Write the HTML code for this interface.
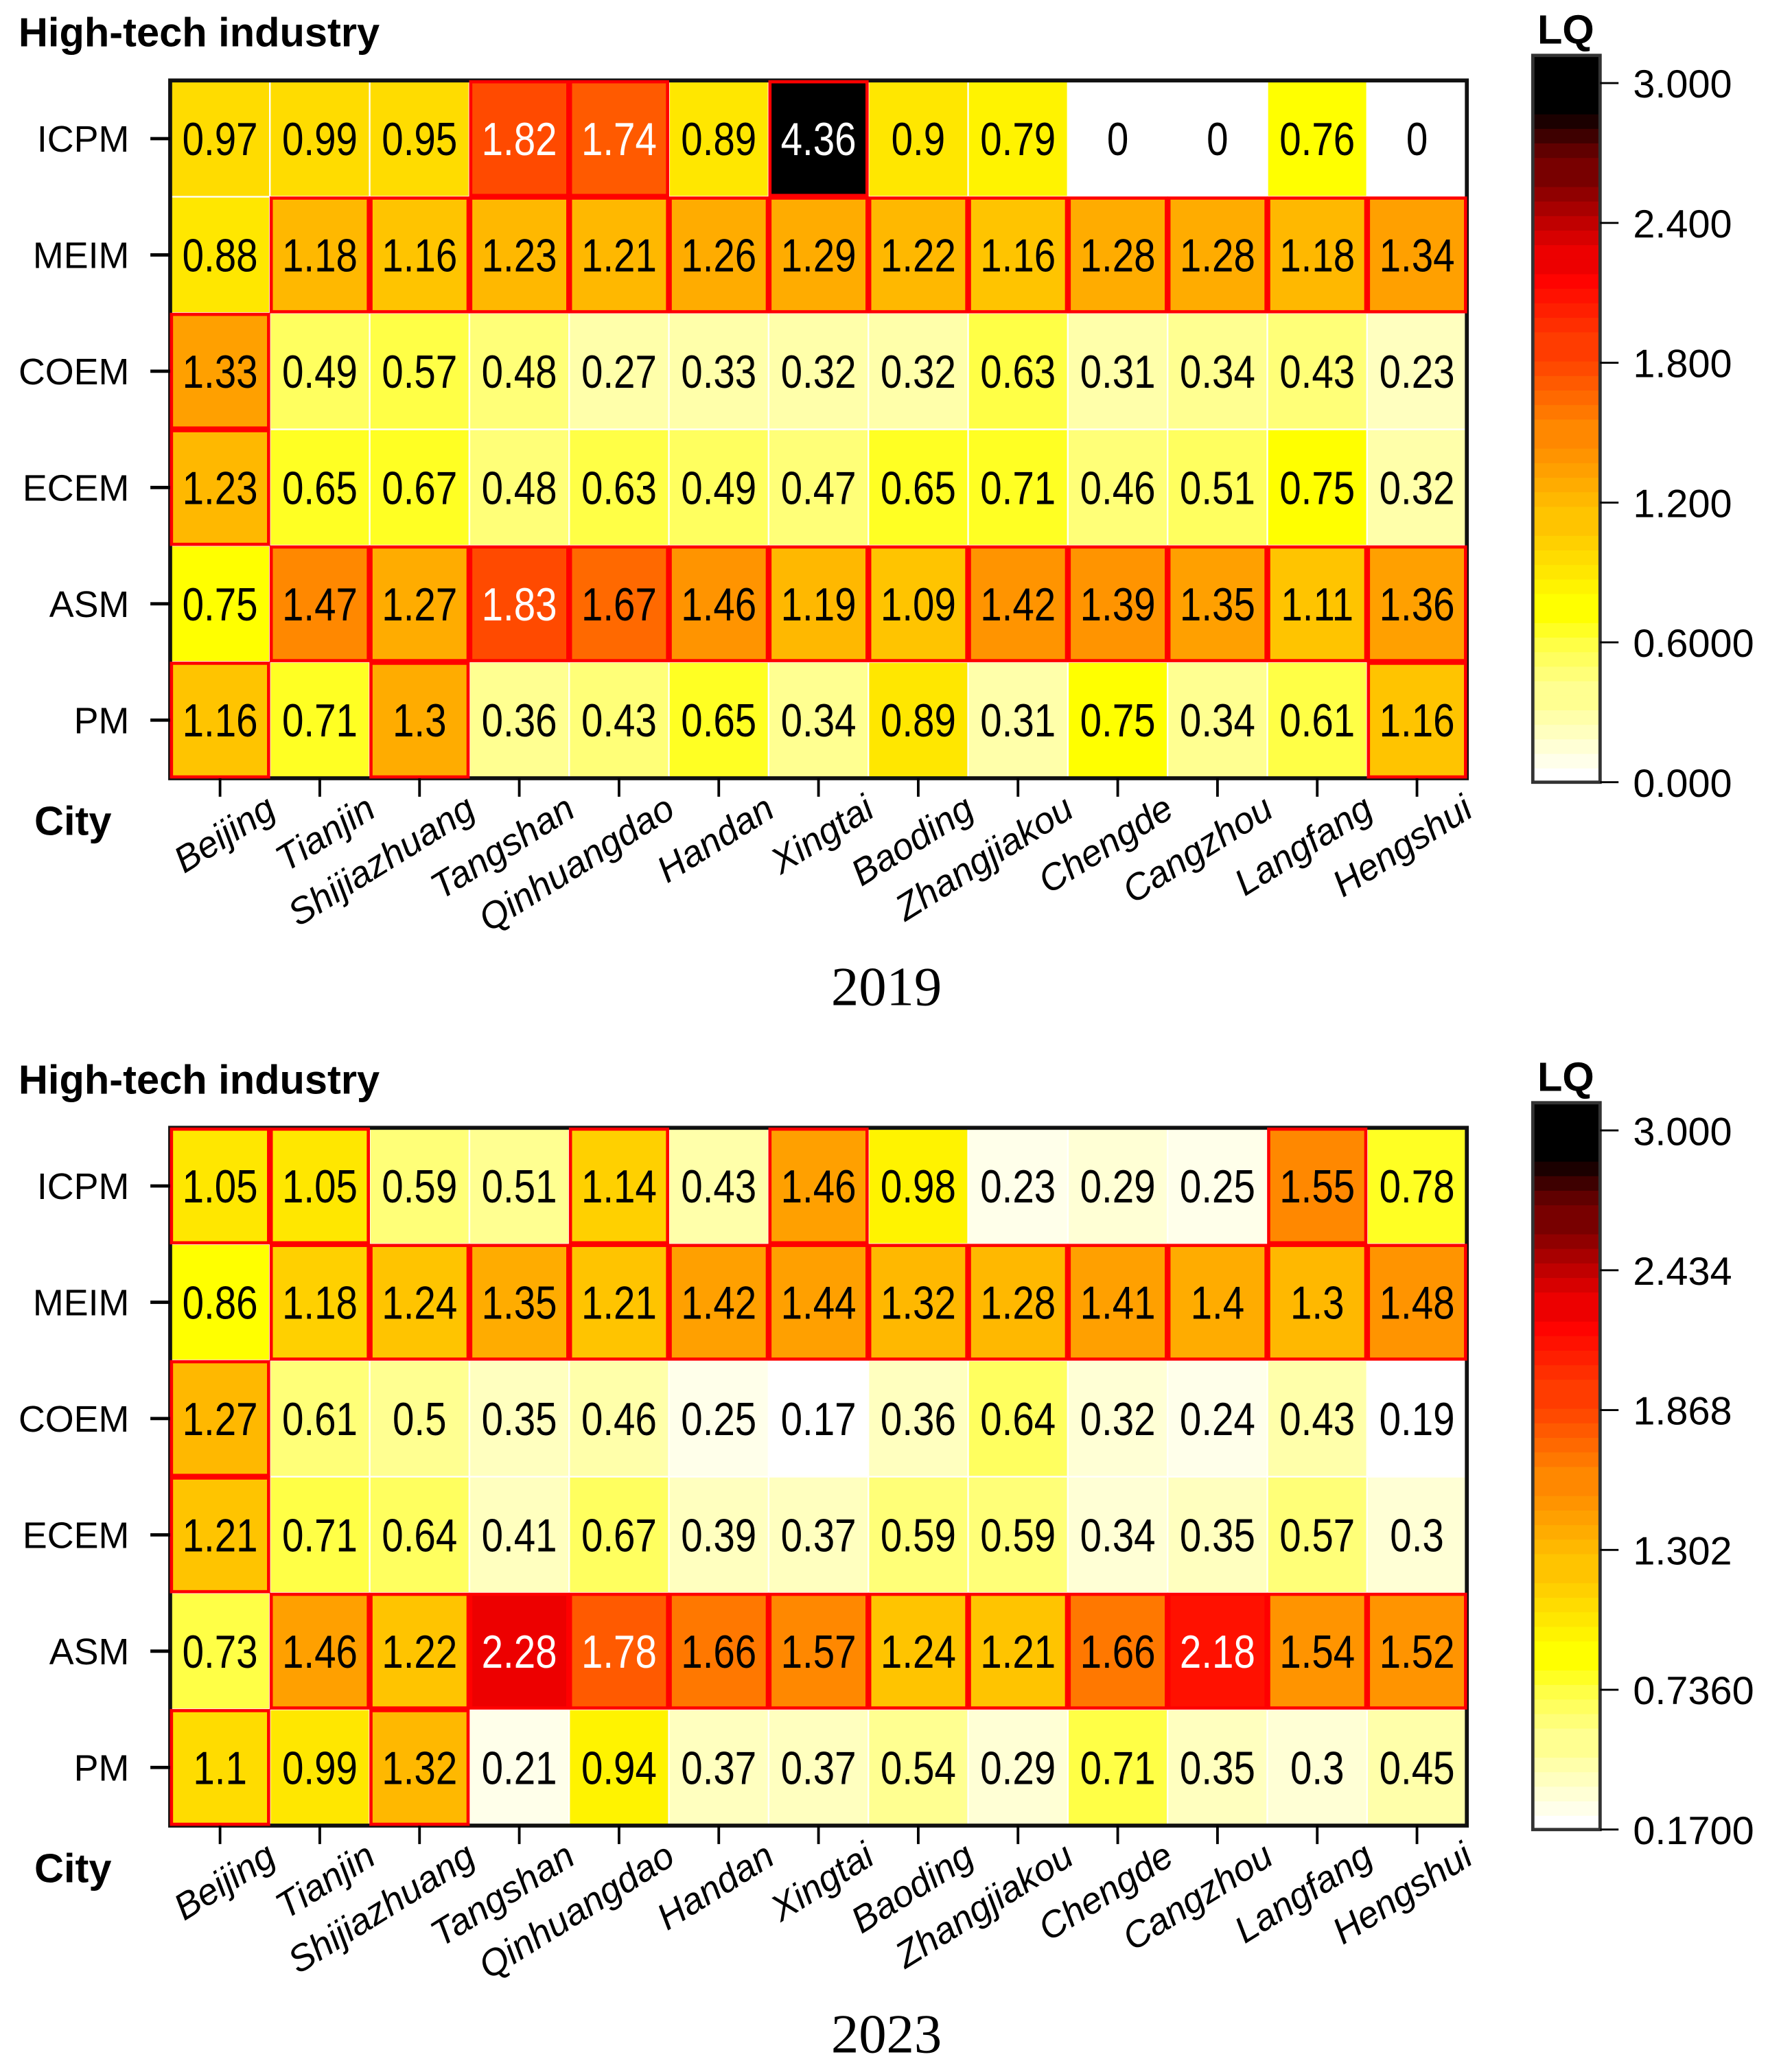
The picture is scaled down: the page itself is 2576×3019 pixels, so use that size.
<!DOCTYPE html>
<html><head><meta charset="utf-8"><style>
html,body{margin:0;padding:0;background:#fff;}
svg{display:block;}
</style></head><body>
<svg id="chart" xmlns="http://www.w3.org/2000/svg" width="2576" height="3019" viewBox="0 0 1340.3 1570.8" font-family="Liberation Sans, Arial, sans-serif">
</svg>
<script>
const cities = ["Beijing","Tianjin","Shijiazhuang","Tangshan","Qinhuangdao","Handan","Xingtai","Baoding","Zhangjiakou","Chengde","Cangzhou","Langfang","Hengshui"];
const industries = ["ICPM","MEIM","COEM","ECEM","ASM","PM"];
const values2019 = [
 [0.97,0.99,0.95,1.82,1.74,0.89,4.36,0.9,0.79,0,0,0.76,0],
 [0.88,1.18,1.16,1.23,1.21,1.26,1.29,1.22,1.16,1.28,1.28,1.18,1.34],
 [1.33,0.49,0.57,0.48,0.27,0.33,0.32,0.32,0.63,0.31,0.34,0.43,0.23],
 [1.23,0.65,0.67,0.48,0.63,0.49,0.47,0.65,0.71,0.46,0.51,0.75,0.32],
 [0.75,1.47,1.27,1.83,1.67,1.46,1.19,1.09,1.42,1.39,1.35,1.11,1.36],
 [1.16,0.71,1.3,0.36,0.43,0.65,0.34,0.89,0.31,0.75,0.34,0.61,1.16]];
const values2023 = [
 [1.05,1.05,0.59,0.51,1.14,0.43,1.46,0.98,0.23,0.29,0.25,1.55,0.78],
 [0.86,1.18,1.24,1.35,1.21,1.42,1.44,1.32,1.28,1.41,1.4,1.3,1.48],
 [1.27,0.61,0.5,0.35,0.46,0.25,0.17,0.36,0.64,0.32,0.24,0.43,0.19],
 [1.21,0.71,0.64,0.41,0.67,0.39,0.37,0.59,0.59,0.34,0.35,0.57,0.3],
 [0.73,1.46,1.22,2.28,1.78,1.66,1.57,1.24,1.21,1.66,2.18,1.54,1.52],
 [1.1,0.99,1.32,0.21,0.94,0.37,0.37,0.54,0.29,0.71,0.35,0.3,0.45]];
const ticks2019 = ["3.000","2.400","1.800","1.200","0.6000","0.000"];
const ticks2023 = ["3.000","2.434","1.868","1.302","0.7360","0.1700"];
const range2019 = [0,3];
const range2023 = [0.17,3];
const years = ["2019","2023"];

const NS="http://www.w3.org/2000/svg";
const svg=document.getElementById('chart');
function mk(tag,attrs,parent,text){const e=document.createElementNS(NS,tag);for(const k in attrs)e.setAttribute(k,attrs[k]);if(text!==undefined)e.textContent=text;(parent||svg).appendChild(e);return e;}

const stops=[[0,[255,255,255]],[0.1,[255,255,170]],[0.2,[255,255,70]],[0.25,[255,255,0]],[0.4,[255,184,0]],[0.5,[255,136,0]],[0.6,[255,74,0]],[0.73,[255,0,0]],[0.8,[192,0,0]],[0.9,[96,0,0]],[0.97,[0,0,0]],[1,[0,0,0]]];
function colorAt(t){t=Math.max(0,Math.min(1,t));t=Math.round(t*40)/40;
 for(let i=1;i<stops.length;i++){if(t<=stops[i][0]){const a=stops[i-1],b=stops[i];const f=(t-a[0])/(b[0]-a[0]);const c=a[1].map((v,k)=>Math.round(v+(b[1][k]-v)*f));return `rgb(${c[0]},${c[1]},${c[2]})`;}}
 return 'rgb(0,0,0)';}

function panel(oy,vals,ticks,range,year){
 const g=mk('g',{});
 
 
 const L=129,R=1112,T=oy+61,B=oy+590;
 const cw=(R-L)/cities.length, rh=(B-T)/industries.length;
 const xS=i=>L+i*cw, yS=j=>T+j*rh;
 const tS=v=>(v-range[0])/(range[1]-range[0]);
 const title=mk('text',{x:14,y:oy+35,'font-size':31,'font-weight':'bold'},g,'High-tech industry');
 
 
 industries.forEach((ind,j)=>{cities.forEach((c,i)=>{
  const v=vals[j][i];
  const r=mk('rect',{x:xS(i),y:yS(j),width:cw,height:rh,fill:colorAt(tS(v)),stroke:'#fff','stroke-width':1.2},g);
  
  
 });});
 mk('rect',{x:L,y:T,width:R-L,height:B-T,fill:'none',stroke:'#111','stroke-width':3},g);
 industries.forEach((ind,j)=>{cities.forEach((c,i)=>{
  const v=vals[j][i];
  if(v>1){mk('rect',{x:xS(i)+1,y:yS(j)+1,width:cw-2,height:rh-2,fill:'none',stroke:'#ff0000','stroke-width':2.4},g);}
 });});
 industries.forEach((ind,j)=>{cities.forEach((c,i)=>{
  const v=vals[j][i];
  const t=mk('text',{transform:`translate(${xS(i)+cw/2},${yS(j)+rh/2+12.5}) scale(0.84,1)`,'text-anchor':'middle','font-size':35,fill:v>1.7?'#fff':'#000'},g,String(v));
  
  
 });});
 industries.forEach((ind,j)=>{
  const cy=yS(j)+rh/2;
  mk('line',{x1:114,x2:L,y1:cy,y2:cy,stroke:'#000','stroke-width':2.5},g);
  const t=mk('text',{x:98,y:cy+10,'text-anchor':'end','font-size':28},g,ind);
  
  
 });
 cities.forEach((c,i)=>{
  const cx=xS(i)+cw/2;
  mk('line',{x1:cx,x2:cx,y1:B,y2:B+14,stroke:'#000','stroke-width':2},g);
  const t=mk('text',{transform:`translate(${cx+44},${B+28}) rotate(-32)`,'text-anchor':'end','font-size':28,'font-style':'italic'},g,c);
  
  
 });
 const ct=mk('text',{x:26,y:oy+633,'font-size':31,'font-weight':'bold'},g,'City');
 
 
 const yr=mk('text',{x:672,y:oy+762,'text-anchor':'middle','font-size':42,'font-family':'Liberation Serif, serif'},g,year);
 
 
 const cbL=1162,cbR=1213,cbTop=oy+42,cbT=oy+63,cbB=oy+593;
 const nb=50;
 for(let k=0;k<nb;k++){
  const y0=cbB-(k+1)*(cbB-cbTop)/nb;
  const tt=(k+0.5)/nb*((cbB-cbTop)/(cbB-cbT));
  const r=mk('rect',{x:cbL,y:y0,width:cbR-cbL,height:(cbB-cbTop)/nb+0.6,fill:colorAt(tt)},g);
  
  
 }
 mk('rect',{x:cbL,y:cbTop,width:cbR-cbL,height:cbB-cbTop,fill:'none',stroke:'#333','stroke-width':2.5},g);
 const lq=mk('text',{x:1187,y:oy+33,'text-anchor':'middle','font-size':31,'font-weight':'bold'},g,'LQ');
 
 
 ticks.forEach((lab,k)=>{
  const y=cbT+k*(cbB-cbT)/(ticks.length-1);
  mk('line',{x1:cbR,x2:cbR+14,y1:y,y2:y,stroke:'#000','stroke-width':1.5},g);
  const t=mk('text',{x:1238,y:y+11,'font-size':30},g,lab);
  
  
 });
}
panel(0,values2019,ticks2019,range2019,years[0]);
panel(794,values2023,ticks2023,range2023,years[1]);
</script>
</body></html>
